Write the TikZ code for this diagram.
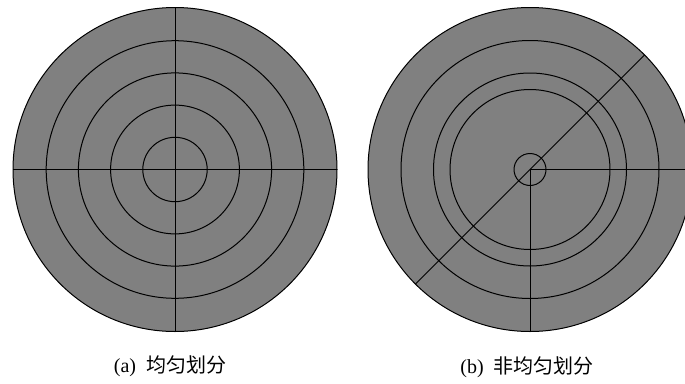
\documentclass[tikz,border=0pt]{standalone}
\usepackage{fontspec}
\usetikzlibrary{calc}
\setmainfont{Liberation Serif}
\newfontfamily\cjk{Noto Sans CJK SC}
\begin{document}
\begin{tikzpicture}[x=1pt,y=-1pt,
  disk/.style={fill=diskgray,draw=black,line width=1pt},
  ring/.style={draw=black,line width=1pt},
  spoke/.style={draw=black,line width=1pt},
  caption/.style={font=\fontsize{20}{22}\selectfont,inner sep=0pt}]
\definecolor{diskgray}{RGB}{128,128,128}
\useasboundingbox (0,0) rectangle (685,383);
\clip (0,0) rectangle (685,383);
% (a) uniform
\coordinate (ca) at (175,169.5);
\path[disk] (ca) circle[radius=162];
\foreach \r in {32.2,64.4,96.6,128.8}{\path[ring] (ca) circle[radius=\r];}
\draw[spoke] ($(ca)+(-162,0)$) -- ($(ca)+(162,0)$);
\draw[spoke] ($(ca)+(0,-162)$) -- ($(ca)+(0,162)$);
% (b) non-uniform
\coordinate (cb) at (530,169.5);
\path[disk] (cb) circle[radius=162];
\foreach \r in {16,80,96.5,129}{\path[ring] (cb) circle[radius=\r];}
\draw[spoke] ($(cb)+(135:162)$) -- ($(cb)+(-45:162)$);
\draw[spoke] (cb) -- ($(cb)+(162,0)$);
\draw[spoke] (cb) -- ($(cb)+(0,162)$);
% captions
\node[caption] (capa) at (170,366) {(a)\hspace{0.5em}{\cjk 均匀划分}};
\node[caption] (capb) at (527,367) {(b)\hspace{0.5em}{\cjk 非均匀划分}};
\end{tikzpicture}
\end{document}
